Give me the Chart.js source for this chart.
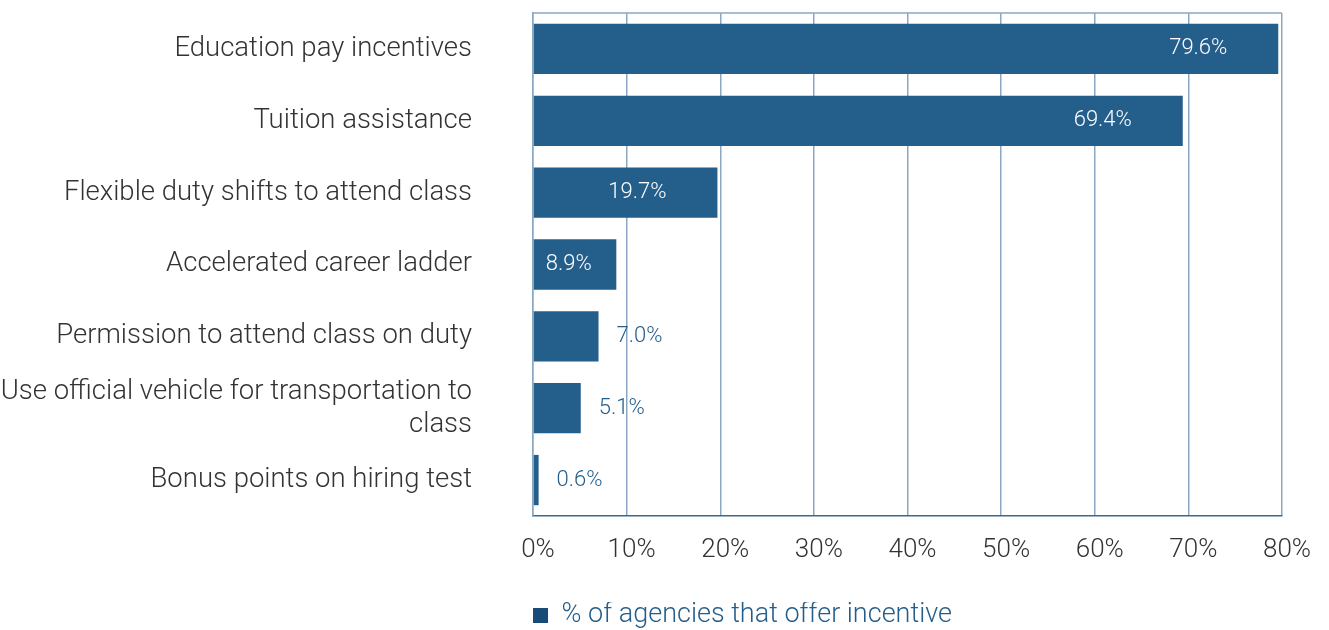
<!DOCTYPE html>
<html>
<head>
<meta charset="utf-8">
<script src="https://cdn.jsdelivr.net/npm/chart.js@4"></script>
<style>
    html, body { margin: 0; padding: 0; background: #fff; }
    #wrap { width: 1329px; height: 630px; position: relative; }
</style>
</head>
<body>
<div id="wrap"><canvas id="incentiveChart"></canvas></div>
<script>
/* =========================================================
   INCENTIVOS EDUCATIVOS
   ========================================================= */

const incentiveLabels = [
    "Education pay incentives",
    "Tuition assistance",
    "Flexible duty shifts to attend class",
    "Accelerated career ladder",
    "Permission to attend class on duty",
    ["Use official vehicle for transportation to", "class"],
    "Bonus points on hiring test"
];

const agencyShare = [79.6, 69.4, 19.7, 8.9, 7.0, 5.1, 0.6];

const percentTicks = [0, 10, 20, 30, 40, 50, 60, 70, 80];

const seriesName = "% of agencies that offer incentive";

const FONT = "Roboto, 'Liberation Sans', sans-serif";
const BAR_BLUE = "#245e8b";
const LEGEND_BLUE = "#1a4a77";
const GRID_BLUE = "#8ba7c1";
const TEXT_GRAY = "#333333";


// value labels: white inside the long bars, blue beside the short ones
const barValueLabels = {
    id: "barValueLabels",

    afterDatasetsDraw(chart) {
        const { ctx } = chart;
        const meta = chart.getDatasetMeta(0);

        ctx.save();
        ctx.font = `300 22px ${FONT}`;
        ctx.textBaseline = "middle";

        meta.data.forEach((bar, i) => {
            const value = agencyShare[i];
            const text = value.toFixed(1) + "%";

            if (value >= 8) {
                ctx.fillStyle = "#ffffff";
                ctx.textAlign = "center";
                ctx.fillText(text, Math.max(bar.base + 35, bar.x - 80), bar.y);
            } else {
                ctx.fillStyle = BAR_BLUE;
                ctx.textAlign = "left";
                ctx.fillText(text, bar.x + 18, bar.y);
            }
        });

        ctx.restore();
    }
};


// thin frame line across the top of the plot area
const plotFrame = {
    id: "plotFrame",

    beforeDatasetsDraw(chart) {
        const { ctx, chartArea } = chart;

        ctx.save();
        ctx.strokeStyle = GRID_BLUE;
        ctx.lineWidth = 1.5;
        ctx.beginPath();
        ctx.moveTo(chartArea.left, chartArea.top);
        ctx.lineTo(chartArea.right, chartArea.top);
        ctx.stroke();
        ctx.restore();
    }
};


const canvas = document.getElementById("incentiveChart");

new Chart(canvas.getContext("2d"), {
    type: "bar",

    data: {
        labels: incentiveLabels,

        datasets: [
            {
                label: seriesName,
                data: agencyShare,
                backgroundColor: BAR_BLUE,
                borderWidth: 0,
                barPercentage: 0.7,
                categoryPercentage: 1
            }
        ]
    },

    options: {
        indexAxis: "y",
        responsive: true,
        maintainAspectRatio: false,
        animation: false,

        layout: {
            padding: { top: 13, right: 47, bottom: -9, left: 0 }
        },

        plugins: {
            tooltip: { enabled: false },

            legend: {
                position: "bottom",
                align: "start",
                fullSize: false,

                labels: {
                    boxWidth: 15,
                    boxHeight: 15,
                    padding: 0,
                    color: BAR_BLUE,
                    font: { family: FONT, size: 27, weight: "300" },

                    generateLabels() {
                        return [{
                            text: seriesName,
                            fillStyle: LEGEND_BLUE,
                            strokeStyle: LEGEND_BLUE,
                            lineWidth: 0,
                            fontColor: BAR_BLUE,
                            datasetIndex: 0
                        }];
                    }
                }
            }
        },

        scales: {
            x: {
                min: 0,
                max: 80,
                afterBuildTicks(scale) {
                    scale.ticks = percentTicks.map(value => ({ value }));
                },
                afterFit(scale) {
                    scale.height = 86;
                },
                ticks: {
                    color: TEXT_GRAY,
                    padding: 19,
                    labelOffset: 5,
                    font: { family: FONT, size: 26, weight: "300" },
                    callback(value) {
                        return value + "%";
                    }
                },
                grid: {
                    color: GRID_BLUE,
                    lineWidth: 1.5,
                    drawTicks: false
                },
                border: {
                    color: "#3b6891",
                    width: 1.5
                }
            },

            y: {
                afterFit(scale) {
                    // wide label column; the big tick padding should not eat vertical space
                    scale.width = 533;
                    scale.paddingTop = 0;
                    scale.paddingBottom = 0;
                },
                ticks: {
                    autoSkip: false,
                    color: TEXT_GRAY,
                    padding: 61,
                    font: { family: FONT, size: 27.5, weight: "300" }
                },
                grid: {
                    display: false,
                    drawTicks: false
                },
                border: {
                    color: GRID_BLUE,
                    width: 1.5
                }
            }
        }
    },

    plugins: [barValueLabels, plotFrame]
});
</script>
</body>
</html>
